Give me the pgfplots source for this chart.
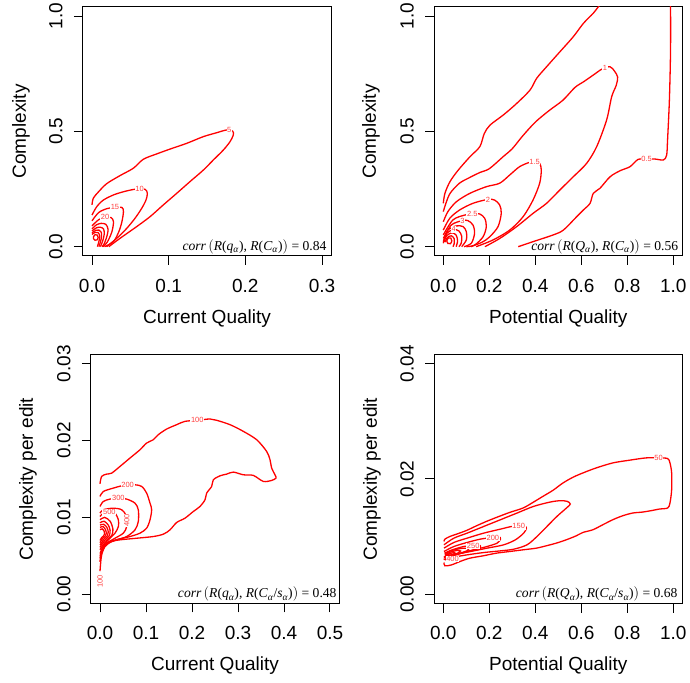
\documentclass[border=0pt]{standalone}
\usepackage{fontspec}
\setmainfont{Liberation Sans}
\newfontfamily\tms{Liberation Serif}
\usepackage{pgfplots}
\pgfplotsset{compat=1.18}
\newcommand{\sub}[1]{\textsubscript{\textit{#1}}}
\tikzset{
  clab/.style={fill=white, text=red!75, inner sep=0.6pt, font=\fontsize{7.5}{7.5}\selectfont},
  corr/.style={anchor=east, inner sep=0pt, font=\tms\fontsize{13.6}{13.6}\selectfont},
}
\begin{document}
\begin{tikzpicture}
\path[use as bounding box] (0pt,0pt) rectangle (690pt,682pt);
\pgfplotsset{
  panel/.style={
    scale only axis, width=248.4pt, height=249.1pt,
    anchor=south west,
    axis line style={line width=1.1pt},
    tick align=outside, major tick length=9pt,
    xtick pos=left, ytick pos=left,
    tick style={line width=1pt, black},
    ticklabel style={font=\fontsize{19}{19}\selectfont, inner sep=0pt},
    xticklabel style={anchor=north},
    yticklabel style={rotate=90, anchor=south},
    xticklabel shift=14pt, yticklabel shift=11pt,
    scaled ticks=false,
  },
  cl/.style={red, line width=1.3pt, smooth, tension=0.5},
}
% ---------------- Panel 1 ----------------
\begin{axis}[panel, at={(82.8pt,426.1pt)},
  xmin=-0.012, xmax=0.312, ymin=-0.04, ymax=1.04,
  xtick={0,0.1,0.2,0.3}, xticklabels={0.0,0.1,0.2,0.3},
  ytick={0,0.5,1}, yticklabels={0.0,0.5,1.0}]
\addplot[cl] coordinates {(0,0.181) (0.0017,0.21) (0.0083,0.237) (0.0191,0.273) (0.0365,0.308) (0.0539,0.340) (0.067,0.379) (0.0843,0.402) (0.1017,0.423) (0.1235,0.448) (0.1452,0.477) (0.1626,0.494) (0.1757,0.506) (0.1835,0.501) (0.1843,0.484) (0.18,0.455) (0.1713,0.419) (0.1583,0.376) (0.1452,0.332) (0.1278,0.282) (0.1104,0.231) (0.093,0.181) (0.0757,0.13) (0.0583,0.087) (0.0365,0.036) (0.022,0)};
\addplot[cl] coordinates {(0,0.137) (0.0061,0.173) (0.0148,0.202) (0.0278,0.224) (0.0409,0.238) (0.0561,0.249) (0.0691,0.249) (0.0722,0.231) (0.0704,0.202) (0.0648,0.166) (0.0561,0.123) (0.0452,0.079) (0.0322,0.036) (0.019,0)};
\addplot[cl] coordinates {(0,0.112) (0.0087,0.148) (0.0196,0.165) (0.030,0.171) (0.039,0.170) (0.041,0.152) (0.039,0.108) (0.035,0.065) (0.028,0.022) (0.0165,0)};
\addplot[cl] coordinates {(0,0.09) (0.0087,0.117) (0.017,0.127) (0.025,0.126) (0.028,0.108) (0.026,0.065) (0.020,0.02) (0.0145,0)};
\addplot[cl] coordinates {(0,0.077) (0.006,0.095) (0.012,0.101) (0.018,0.097) (0.021,0.075) (0.019,0.04) (0.0155,0.01) (0.013,0)};
\addplot[cl] coordinates {(0,0.068) (0.006,0.082) (0.011,0.084) (0.015,0.077) (0.016,0.055) (0.014,0.025) (0.011,0)};
\addplot[cl] coordinates {(0,0.060) (0.005,0.071) (0.009,0.072) (0.012,0.063) (0.0125,0.045) (0.011,0.02) (0.009,0)};
\addplot[cl] coordinates {(0,0.053) (0.004,0.062) (0.008,0.061) (0.010,0.048) (0.0095,0.03) (0.008,0.01) (0.007,0)};
\addplot[cl] coordinates {(0.002,0.043) (0.004,0.052) (0.007,0.050) (0.008,0.040) (0.007,0.030) (0.004,0.028) (0.002,0.034) (0.002,0.043)};
\node[clab] at (axis cs:0.179,0.506) {5};
\node[clab] at (axis cs:0.062,0.250) {10};
\node[clab] at (axis cs:0.030,0.171) {15};
\node[clab] at (axis cs:0.017,0.127) {20};
\node[corr] at (axis cs:0.306,0) {\textit{corr}\,$\bigl($\textit{R}(\textit{q}\sub{α}), \textit{R}(\textit{C}\sub{α})$\bigr)$ = 0.84};
\end{axis}
% ---------------- Panel 2 ----------------
\begin{axis}[panel, at={(434.1pt,426.1pt)},
  xmin=-0.04, xmax=1.04, ymin=-0.04, ymax=1.04,
  xtick={0,0.2,0.4,0.6,0.8,1}, xticklabels={0.0,0.2,0.4,0.6,0.8,1.0},
  ytick={0,0.5,1}, yticklabels={0.0,0.5,1.0}]
\addplot[cl] coordinates {(0,0.188) (0.007,0.231) (0.029,0.282) (0.065,0.332) (0.116,0.39) (0.159,0.434) (0.178,0.49) (0.203,0.527) (0.261,0.571) (0.319,0.621) (0.377,0.679) (0.406,0.730) (0.449,0.780) (0.507,0.845) (0.565,0.910) (0.609,0.968) (0.652,1.012) (0.674,1.04) (0.69,1.06)};
\addplot[cl] coordinates {(0.326,0) (0.391,0.022) (0.478,0.051) (0.522,0.072) (0.58,0.13) (0.609,0.159) (0.638,0.188) (0.652,0.231) (0.681,0.253) (0.725,0.303) (0.768,0.329) (0.812,0.347) (0.848,0.379) (0.884,0.38) (0.92,0.38) (0.957,0.376) (0.971,0.397) (0.975,0.462) (0.983,0.636) (0.988,0.853) (0.988,1.06)};
\addplot[cl] coordinates {(0,0.152) (0.012,0.19) (0.03,0.232) (0.07,0.275) (0.115,0.30) (0.16,0.322) (0.2,0.338) (0.26,0.39) (0.30,0.425) (0.345,0.48) (0.40,0.54) (0.46,0.59) (0.52,0.635) (0.572,0.69) (0.61,0.715) (0.652,0.744) (0.69,0.77) (0.725,0.78) (0.745,0.76) (0.758,0.735) (0.752,0.70) (0.732,0.65) (0.71,0.549) (0.667,0.434) (0.623,0.361) (0.565,0.303) (0.507,0.246) (0.449,0.188) (0.391,0.145) (0.319,0.087) (0.246,0.036) (0.181,0)};
\addplot[cl] coordinates {(0,0.108) (0.02,0.152) (0.057,0.195) (0.115,0.231) (0.187,0.26) (0.245,0.275) (0.289,0.311) (0.332,0.347) (0.376,0.366) (0.397,0.367) (0.419,0.361) (0.426,0.332) (0.419,0.275) (0.39,0.202) (0.347,0.13) (0.289,0.072) (0.216,0.029) (0.143,0)};
\addplot[cl] coordinates {(0,0.072) (0.028,0.123) (0.071,0.159) (0.129,0.188) (0.194,0.205) (0.223,0.202) (0.245,0.181) (0.252,0.145) (0.238,0.087) (0.202,0.043) (0.17,0.02) (0.12,0)};
\addplot[cl] coordinates {(0,0.051) (0.042,0.116) (0.093,0.137) (0.126,0.142) (0.158,0.142) (0.18,0.123) (0.187,0.087) (0.173,0.043) (0.136,0.007) (0.10,0)};
\addplot[cl] coordinates {(0,0.036) (0.035,0.094) (0.083,0.113) (0.107,0.113) (0.129,0.094) (0.136,0.058) (0.122,0.015) (0.09,0)};
\addplot[cl] coordinates {(0,0.022) (0.02,0.072) (0.057,0.09) (0.086,0.087) (0.1,0.065) (0.1,0.029) (0.08,0)};
\addplot[cl] coordinates {(0,0.015) (0.015,0.058) (0.045,0.074) (0.068,0.068) (0.08,0.045) (0.078,0.015) (0.068,0)};
\addplot[cl] coordinates {(0.003,0.02) (0.015,0.048) (0.038,0.06) (0.056,0.05) (0.062,0.025) (0.056,0)};
\addplot[cl] coordinates {(0.008,0.02) (0.018,0.04) (0.035,0.047) (0.047,0.035) (0.047,0.012) (0.042,0)};
\addplot[cl] coordinates {(0.015,0.025) (0.022,0.038) (0.033,0.037) (0.037,0.025) (0.031,0.013) (0.02,0.014) (0.015,0.025)};
\node[clab] at (axis cs:0.884,0.38) {0.5};
\node[clab] at (axis cs:0.703,0.775) {1};
\node[clab] at (axis cs:0.397,0.366) {1.5};
\node[clab] at (axis cs:0.194,0.205) {2};
\node[clab] at (axis cs:0.126,0.142) {2.5};
\node[clab] at (axis cs:0.083,0.113) {3};
\node[clab] at (axis cs:0.045,0.075) {4};
\node[corr] at (axis cs:1.022,0) {\textit{corr}\,$\bigl($\textit{R}(\textit{Q}\sub{α}), \textit{R}(\textit{C}\sub{α})$\bigr)$ = 0.56};
\end{axis}
% ---------------- Panel 3 ----------------
\begin{axis}[panel, at={(90.8pt,78.5pt)},
  xmin=-0.02, xmax=0.52, ymin=-0.0012, ymax=0.0312,
  xtick={0,0.1,0.2,0.3,0.4,0.5}, xticklabels={0.0,0.1,0.2,0.3,0.4,0.5},
  ytick={0,0.01,0.02,0.03}, yticklabels={0.00,0.01,0.02,0.03}]
\addplot[cl] coordinates {(0,0.01437) (0.0036,0.01533) (0.0145,0.01563) (0.0254,0.01576) (0.0435,0.01663) (0.0652,0.01772) (0.0870,0.01880) (0.1014,0.01967) (0.1159,0.02010) (0.1268,0.02076) (0.1449,0.02149) (0.1667,0.02206) (0.1848,0.02249) (0.2116,0.02263) (0.2391,0.02280) (0.2536,0.02263) (0.2826,0.02206) (0.3116,0.02119) (0.3406,0.02010) (0.3623,0.01858) (0.3696,0.01750) (0.3732,0.01641) (0.3804,0.01554) (0.3826,0.01511) (0.3732,0.01481) (0.3551,0.01468) (0.3333,0.01546) (0.3116,0.01554) (0.2899,0.01589) (0.2754,0.01563) (0.2609,0.01541) (0.2464,0.01489) (0.2428,0.01403) (0.2319,0.01316) (0.2283,0.01229) (0.2174,0.01142) (0.2029,0.01077) (0.1848,0.00990) (0.1667,0.00934) (0.1522,0.00838) (0.1377,0.00782) (0.1159,0.00751) (0.0797,0.00729) (0.0435,0.00708) (0.0254,0.00686) (0.0109,0.00621) (0.0036,0.00512) (0.0014,0.00404) (0,0.0030)};
\addplot[cl] coordinates {(0,0.01272) (0.0072,0.01337) (0.029,0.01381) (0.0507,0.01416) (0.0601,0.01416) (0.0761,0.01424) (0.0906,0.01403) (0.1014,0.01316) (0.1087,0.01185) (0.1123,0.01099) (0.1087,0.00968) (0.1014,0.0086) (0.087,0.00795) (0.0652,0.00751) (0.0435,0.00721) (0.0217,0.00686) (0.0109,0.00643) (0.0036,0.00578) (0.001,0.0048) (0,0.0042)};
\addplot[cl] coordinates {(0,0.01142) (0.0072,0.01207) (0.0217,0.01238) (0.0399,0.0125) (0.058,0.01238) (0.0761,0.01185) (0.0833,0.01099) (0.0833,0.00947) (0.0761,0.00838) (0.058,0.00751) (0.0362,0.00708) (0.0181,0.00664) (0.0072,0.00599) (0.0022,0.00512) (0,0.0047)};
\addplot[cl] coordinates {(0,0.01055) (0.0072,0.01099) (0.029,0.0112) (0.0471,0.01099) (0.057,0.0102) (0.058,0.00881) (0.0507,0.00795) (0.0326,0.00729) (0.0145,0.00664) (0.0058,0.00578) (0.0014,0.00521) (0,0.0050)};
\addplot[cl] coordinates {(0,0.01012) (0.0072,0.01055) (0.0203,0.01068) (0.0326,0.01055) (0.0399,0.00968) (0.0399,0.00881) (0.0326,0.00795) (0.0181,0.00708) (0.0072,0.00631) (0.002,0.0056) (0,0.0053)};
\addplot[cl] coordinates {(0,0.0097) (0.01,0.0100) (0.022,0.0095) (0.028,0.0085) (0.026,0.0077) (0.015,0.0070) (0.006,0.0064) (0,0.0058)};
\addplot[cl] coordinates {(0,0.0093) (0.009,0.0095) (0.018,0.0090) (0.022,0.0083) (0.02,0.0076) (0.012,0.0071) (0.005,0.0066) (0,0.0061)};
\addplot[cl] coordinates {(0,0.0090) (0.008,0.0091) (0.015,0.0087) (0.018,0.0081) (0.016,0.0076) (0.009,0.0072) (0,0.0064)};
\addplot[cl] coordinates {(0,0.0087) (0.007,0.0088) (0.012,0.0084) (0.014,0.0080) (0.012,0.0076) (0.006,0.0073) (0,0.0067)};
\addplot[cl] coordinates {(0,0.0084) (0.005,0.0085) (0.009,0.0082) (0.010,0.0079) (0.008,0.0076) (0.004,0.0074) (0,0.0070)};
\node[clab] at (axis cs:0.2116,0.02263) {100};
\node[clab] at (axis cs:0.0601,0.01416) {200};
\node[clab] at (axis cs:0.0399,0.0125) {300};
\node[clab, rotate=90] at (axis cs:0.058,0.0096) {400};
\node[clab] at (axis cs:0.0203,0.01068) {500};
\node[clab, rotate=90] at (axis cs:0.0,0.0017) {100};
\node[corr] at (axis cs:0.5146,0) {\textit{corr}\,$\bigl($\textit{R}(\textit{q}\sub{α}), \textit{R}(\textit{C}\sub{α}/\textit{s}\sub{α})$\bigr)$ = 0.48};
\end{axis}
% ---------------- Panel 4 ----------------
\begin{axis}[panel, at={(434.1pt,78.5pt)},
  xmin=-0.04, xmax=1.04, ymin=-0.0016, ymax=0.0416,
  xtick={0,0.2,0.4,0.6,0.8,1}, xticklabels={0.0,0.2,0.4,0.6,0.8,1.0},
  ytick={0,0.02,0.04}, yticklabels={0.00,0.02,0.04}]
\addplot[cl] coordinates {(0.003,0.00916) (0.0072,0.00957) (0.0289,0.01003) (0.0578,0.01043) (0.1012,0.01107) (0.1445,0.01188) (0.1879,0.01264) (0.2312,0.01333) (0.2890,0.01420) (0.3468,0.01496) (0.3902,0.01594) (0.4335,0.01699) (0.4769,0.01803) (0.5202,0.01930) (0.5636,0.02029) (0.6069,0.02104) (0.6647,0.02191) (0.7370,0.02278) (0.8092,0.02325) (0.8815,0.02365) (0.9364,0.02365) (0.9754,0.02354) (0.9855,0.02278) (0.9928,0.02104) (0.9928,0.01814) (0.9855,0.01583) (0.9754,0.01496) (0.9393,0.01478) (0.9104,0.01455) (0.8671,0.01426) (0.8237,0.01409) (0.7803,0.01362) (0.7370,0.01293) (0.6936,0.01206) (0.6503,0.01119) (0.6069,0.01072) (0.5780,0.01014) (0.5347,0.00945) (0.4913,0.00887) (0.4480,0.00841) (0.4046,0.00800) (0.3468,0.00771) (0.2890,0.00742) (0.2312,0.00713) (0.1734,0.00667) (0.1156,0.00626) (0.0723,0.00568) (0.0361,0.00510) (0.0072,0.00493) (0.003,0.00551)};
\addplot[cl] coordinates {(0.003,0.00858) (0.0464,0.00974) (0.1041,0.01061) (0.1763,0.01177) (0.2486,0.01293) (0.3208,0.01409) (0.3931,0.01525) (0.4653,0.01600) (0.5087,0.01623) (0.5376,0.01612) (0.5520,0.01565) (0.5303,0.01478) (0.4942,0.01351) (0.4509,0.01177) (0.4075,0.01003) (0.3642,0.00858) (0.3064,0.00782) (0.2486,0.00753) (0.1763,0.00724) (0.1041,0.00684) (0.0464,0.00643) (0.0102,0.00597) (0.003,0.0062)};
\addplot[cl] coordinates {(0.003,0.0080) (0.0464,0.00899) (0.1041,0.00974) (0.1763,0.01061) (0.2486,0.01130) (0.2992,0.01177) (0.3497,0.01188) (0.3613,0.01148) (0.3497,0.01061) (0.3136,0.00945) (0.2630,0.00858) (0.1908,0.00800) (0.1185,0.00742) (0.0464,0.00684) (0.0102,0.00626) (0.004,0.0066)};
\addplot[cl] coordinates {(0.003,0.00742) (0.0464,0.00829) (0.1041,0.00899) (0.1619,0.00957) (0.2155,0.00986) (0.2414,0.01003) (0.2486,0.00957) (0.2341,0.00887) (0.1908,0.00829) (0.1330,0.00771) (0.0753,0.00713) (0.0247,0.00655) (0.008,0.0066)};
\addplot[cl] coordinates {(0.005,0.00713) (0.0392,0.00771) (0.0897,0.00829) (0.1300,0.0084) (0.1547,0.00858) (0.1619,0.00817) (0.1330,0.00771) (0.0897,0.00724) (0.0392,0.00666) (0.0145,0.00640) (0.007,0.0067)};
\addplot[cl] coordinates {(0.008,0.0070) (0.03,0.0075) (0.07,0.0079) (0.10,0.0080) (0.11,0.0077) (0.08,0.0072) (0.04,0.0068) (0.015,0.0066) (0.008,0.0070)};
\addplot[cl] coordinates {(0.012,0.0069) (0.03,0.0073) (0.06,0.0076) (0.075,0.0075) (0.06,0.0071) (0.03,0.0068) (0.015,0.0067) (0.012,0.0069)};
\addplot[cl] coordinates {(0.016,0.0068) (0.03,0.0071) (0.05,0.0072) (0.045,0.0069) (0.025,0.0067) (0.016,0.0068)};
\node[clab] at (axis cs:0.936,0.02365) {50};
\node[clab] at (axis cs:0.328,0.01177) {150};
\node[clab] at (axis cs:0.2155,0.00986) {200};
\node[clab] at (axis cs:0.130,0.0084) {250};
\node[clab] at (axis cs:0.04,0.0061) {400};
\node[corr] at (axis cs:1.019,0) {\textit{corr}\,$\bigl($\textit{R}(\textit{Q}\sub{α}), \textit{R}(\textit{C}\sub{α}/\textit{s}\sub{α})$\bigr)$ = 0.68};
\end{axis}
% ---------------- axis titles ----------------
\begin{scope}[every node/.style={font=\fontsize{19}{19}\selectfont, inner sep=0pt}]
\node at (207pt,363pt) {Current Quality};
\node at (558.3pt,363pt) {Potential Quality};
\node at (215pt,16.5pt) {Current Quality};
\node at (558.3pt,16.5pt) {Potential Quality};
\node[rotate=90] at (21pt,550.6pt) {Complexity};
\node[rotate=90] at (371pt,550.6pt) {Complexity};
\node[rotate=90] at (28pt,202.8pt) {Complexity per edit};
\node[rotate=90] at (372pt,202.8pt) {Complexity per edit};
\end{scope}
\end{tikzpicture}
\end{document}
